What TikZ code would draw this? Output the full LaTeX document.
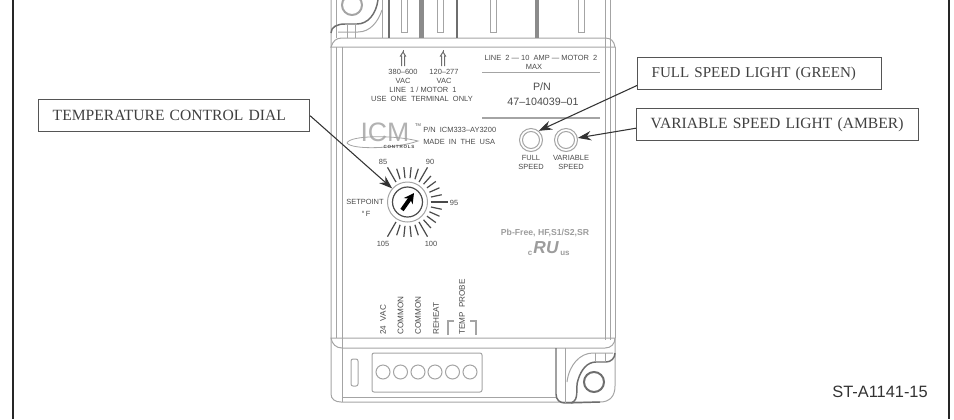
\documentclass[tikz,border=0pt]{standalone}
\usepackage{fontspec}
\setmainfont{Liberation Serif}
\setsansfont{Liberation Sans}
\usetikzlibrary{arrows.meta,positioning}
\definecolor{framedark}{HTML}{262626}
\definecolor{calloutgray}{HTML}{555555}
\definecolor{devline}{HTML}{A4A4A4}
\definecolor{devdark}{HTML}{6E6E6E}
\definecolor{inkgray}{HTML}{4A4A4A}
\definecolor{fadegray}{HTML}{9C9C9C}
\begin{document}
\begin{tikzpicture}[x=0.75pt, y=-0.75pt, >=Stealth,
  callout/.style={draw=calloutgray, line width=1.1pt, minimum height=24pt, inner ysep=0pt, inner xsep=10.5pt, anchor=north west, align=left, text=black!75, font=\fontsize{11.7}{13}\selectfont},
  pointer/.style={->, draw=black!80, line width=0.8pt, arrows={-Stealth[length=10pt,width=7pt]}},
  dev/.style={draw=devline, line width=0.75pt},
  devthick/.style={draw=devdark, line width=1.1pt},
  lab/.style={inner sep=0pt, text=inkgray, font=\sffamily\fontsize{5.6}{6}\selectfont},
  vlab/.style={lab, rotate=90, anchor=west, font=\sffamily\fontsize{6.1}{6}\selectfont},
  dialtick/.style={draw=inkgray, line width=0.9pt},
  led/.style={circle, draw=devline, line width=0.75pt, minimum size=17.25pt, inner sep=0pt},
  pin/.style={circle, draw=devline, line width=0.75pt, minimum size=10.5pt, inner sep=0pt}]
\useasboundingbox (0,0) rectangle (954,419);
% frame
\draw[framedark, line width=1.5pt] (12.5,0) -- (12.5,419);
\draw[framedark, line width=1.5pt] (948.5,0) -- (948.5,419);
% device body
\draw[dev] (331,0) -- (331,394) .. controls (331,399) and (335,402) .. (341,402) -- (600,402) .. controls (610,402) and (615,396) .. (615,386) -- (615,338);
\draw[dev] (336,0) -- (336,38);
\draw[dev] (336,47) -- (336,338);
\draw[dev] (342,47) -- (342,402);
\draw[dev] (605,0) -- (605,340);
\draw[dev] (610,0) -- (610,340);
\draw[dev] (615,47) -- (615,338);
\draw[dev] (331,47) .. controls (333,41) and (336,38) .. (342,38) -- (605,38) .. controls (611,38) and (614,41) .. (615,47) -- cycle;
\draw[dev] (331,338) .. controls (332,344) and (336,348) .. (342,348) -- (605,348) .. controls (611,348) and (615,344) .. (615,338) -- cycle;
\draw[dev] (342,397) -- (556,397);
% top terminals
\foreach \x in {389,457} \draw[devthick, line width=2pt] (\x,0) -- (\x,38);
\foreach \x in {421.5,537} \draw[devthick, line width=3.6pt, draw=devdark!80] (\x,0) -- (\x,38);
\foreach \x in {401,437,490,578} \draw[dev] (\x,0) -- (\x,32) -- (\x+6,32) -- (\x+6,0);
\draw[dev] (382,0) -- (382,38);
% top corner
\node[circle, draw=devline, line width=1.5pt, minimum size=15pt, inner sep=0pt] (topring) at (352,5) {};
\draw[devthick] (331,33) .. controls (331,27) and (337,24) .. (345,24) -- (357,24) .. controls (368,24) and (376,14) .. (378,0);
\draw[dev] (382,10) .. controls (378,22) and (370,32) .. (358,32) -- (338,32);
\draw[dev] (347,24) -- (347,38);
\draw[dev] (355,24) -- (355,38);
% bottom connector
\draw[dev, rounded corners=1.5pt] (351,359) rectangle (358,386);
\draw[dev, rounded corners=1.5pt] (372,353) rectangle (482,392);
\foreach \n/\x in {1/383,2/400.5,3/418,4/435,5/452.5,6/470}
  \node[pin] (pin\n) at (\x,372) {};
% bottom corner
\node[circle, draw=devdark, line width=1.5pt, minimum size=15pt, inner sep=0pt] (botring) at (594,382) {};
\draw[devthick] (556,348) -- (556,394) .. controls (556,400) and (560,403) .. (565,403) -- (600,402);
\draw[dev] (565,348) -- (565,403);
\draw[dev] (567,382) .. controls (569,365) and (580,353) .. (593,353) -- (613,353);
\draw[devthick] (571,403) .. controls (580,400) and (575,388) .. (578,380) .. controls (581,370) and (587,362) .. (596,362) -- (606,362) .. controls (611,362) and (615,358) .. (615,353);
\draw[dev] (595,353) -- (595,362);
\draw[dev] (605,353) -- (605,362);
% terminal arrows
\foreach \x in {403,443} {
  \draw[dev, draw=devdark] (\x,50) -- (\x,56);
  \draw[dev, draw=devdark, fill=white] (\x-1.5,66) -- (\x-1.5,56) -- (\x-2.5,56) -- (\x,52) -- (\x+2.5,56) -- (\x+1.5,56) -- (\x+1.5,66);
}
\node[lab] (lineA) at (403,72) {380--600};
\node[lab] (vacA) at (403,81) {VAC};
\node[lab] (lineB) at (444,72) {120--277};
\node[lab] (vacB) at (444,81) {VAC};
\node[lab] (lineone) at (423,90) {LINE\ \ 1 / MOTOR\ \ 1};
\node[lab] (useone) at (422,99) {USE\ \ ONE\ \ TERMINAL\ \ ONLY};
\node[lab] (linetwo) at (541,58) {LINE\ \ 2 --- 10\ \ AMP --- MOTOR\ \ 2};
\node[lab] (maxamp) at (534,66.5) {MAX};
\draw[devthick, draw=devline, line width=1pt] (482,72.5) -- (600,72.5);
\node[lab, font=\sffamily\fontsize{8}{9}\selectfont] (pnA) at (542,87) {P/N};
\node[lab, font=\sffamily\fontsize{8}{9}\selectfont] (pnB) at (543,101.5) {47--104039--01};
\draw[devthick, draw=devline, line width=1pt] (482,118) -- (600,118);
% logo
\node[inner sep=0pt, text=black!30, text depth=0pt, font=\sffamily\fontsize{20}{20}\selectfont] (logo) at (385,132) {ICM};
\draw[dev, line width=0.6pt] (347,143) .. controls (350,135) and (395,135) .. (418,141) .. controls (395,149) and (352,150) .. (347,143);
\node[inner sep=0pt, text=inkgray, font=\sffamily\bfseries\fontsize{3.4}{4}\selectfont] (logosub) at (399,147) {C\,O\,N\,T\,R\,O\,L\,S};
\node[inner sep=0pt, text=inkgray, font=\sffamily\fontsize{3}{3}\selectfont] (logotm) at (418,125) {TM};
\node[lab, anchor=west] (icmpn) at (423,130) {P/N\ \ ICM333--AY3200};
\node[lab, anchor=west] (icmmade) at (423,142) {MADE\ \ IN\ \ THE\ \ USA};
% dial
\node[circle, draw=devline, line width=0.75pt, minimum size=30pt, inner sep=0pt] (dial) at (407.5,202) {};
\node[circle, draw=inkgray, line width=0.9pt, minimum size=22.5pt, inner sep=0pt] (dialinner) at (dial) {};
\foreach \a in {108,96,84,72,48,36,24,12,-12,-24,-36,-48,-72,-84,-96,-108}
  \draw[dialtick] (dial.center) ++(\a:24) -- ++(\a:11);
\foreach \a in {120,60,0,-60,-120}
  \draw[dialtick] (dial.center) ++(\a:23) -- ++(\a:17);
\coordinate (pointertail) at (402,210);
\coordinate (pointerhead) at (414,193);
\draw[black, line width=3pt, arrows={-Stealth[length=7.5pt,width=8pt]}] (pointertail) -- (pointerhead);
\node[lab] (tempA) at (383,162) {85};
\node[lab] (tempB) at (430,162) {90};
\node[lab] (tempC) at (454,202.5) {95};
\node[lab] (tempD) at (431,243.5) {100};
\node[lab] (tempE) at (383,243.5) {105};
\node[lab] (setpoint) at (365,202) {SETPOINT};
\node[lab] (degf) at (366,214) {°\,F};
% lights
\node[led] (fullled) at (531,140) {};
\node[led] (varled) at (566,140) {};
\node[circle, draw=devline, line width=0.75pt, minimum size=12.75pt, inner sep=0pt] (fullcore) at (fullled) {};
\node[circle, draw=devline, line width=0.75pt, minimum size=12.75pt, inner sep=0pt] (varcore) at (varled) {};
\node[lab] (fullA) at (531,158) {FULL};
\node[lab] (fullB) at (531,167) {SPEED};
\node[lab] (varA) at (571,158) {VARIABLE};
\node[lab] (varB) at (571,167) {SPEED};
% approvals
\node[lab, text=fadegray, font=\sffamily\bfseries\fontsize{6.5}{7}\selectfont] (pbfree) at (545,233) {Pb-Free, HF,S1/S2,SR};
\node[lab, text=fadegray, font=\sffamily\bfseries\itshape\fontsize{13}{13}\selectfont] (ulmark) at (546,248) {RU};
\node[lab, text=fadegray, font=\sffamily\bfseries\fontsize{6}{6}\selectfont] (ulc) at (530,253) {c};
\node[lab, text=fadegray, font=\sffamily\bfseries\fontsize{6}{6}\selectfont] (ulus) at (565,253) {us};
% terminal names
\node[vlab] (termA) at (383,335) {24\ \ VAC};
\node[vlab] (termB) at (400.5,335) {COMMON};
\node[vlab] (termC) at (418,335) {COMMON};
\node[vlab] (termD) at (436,335) {REHEAT};
\node[vlab] (termE) at (462,335) {TEMP\ \ PROBE};
\draw[dev, line width=1pt] (448,335) -- (448,321) -- (454,321);
\draw[dev, line width=1pt] (476,335) -- (476,321) -- (470,321);
% callouts
\node[callout, text width=182pt] (tempbox) at (38,99) {TEMPERATURE CONTROL DIAL};
\node[callout, text width=162pt, font=\fontsize{11.3}{13}\selectfont] (fullbox) at (637,57) {FULL SPEED LIGHT (GREEN)};
\node[callout, text width=190.5pt] (varbox) at (636,108) {VARIABLE SPEED LIGHT (AMBER)};
\draw[pointer] (tempbox.east) -- (dial);
\draw[pointer] ([yshift=3.75pt]fullbox.south west) -- (fullled.50);
\draw[pointer] ([yshift=-2.6pt]varbox.west) -- (varled.10);
\node[inner sep=0pt, anchor=east, text=black!80, font=\sffamily\fontsize{12.3}{14}\selectfont] (stamp) at (928,392) {ST-A1141-15};
\end{tikzpicture}
\end{document}
